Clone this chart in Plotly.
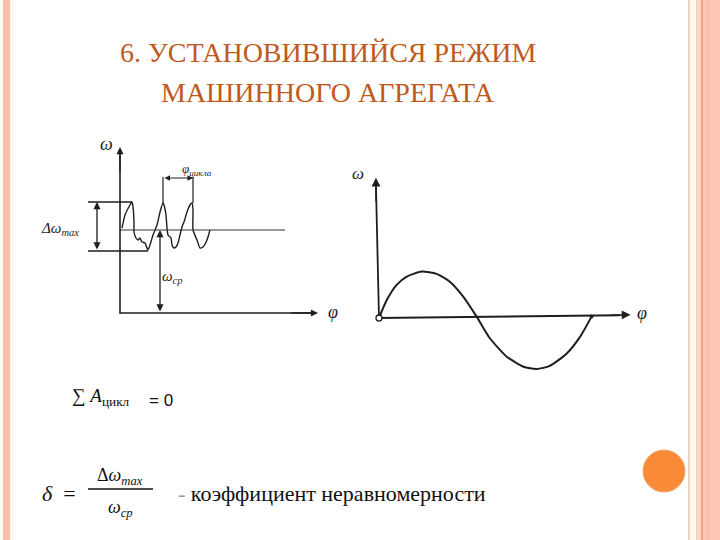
import plotly.graph_objects as go

# ---------------- data ----------------
# Left diagram: angular velocity omega vs angle phi (steady-state fluctuation)
wave_phi = [0.2, 0.5, 1.0, 1.2, 1.3, 1.4, 1.4, 1.6, 1.8, 2.0, 2.2, 2.5, 2.7, 2.8, 3.0, 3.3, 3.7, 4.0,
            4.3, 4.4, 4.6, 4.7, 4.8, 5.1, 5.2, 5.4, 5.6, 5.8, 6.0, 6.2, 6.4, 6.7, 7.0, 7.2, 7.3, 7.3,
            7.7, 8.0, 8.3, 8.7, 9.0]
wave_omega = [8.5, 9.8, 10.8, 11.1, 10.6, 9.1, 8.1, 7.5, 7.3, 7.5, 7.1, 7.0, 6.5, 6.3, 6.8, 7.8, 8.8, 10.1,
              11.0, 10.8, 9.8, 8.5, 7.8, 7.5, 6.8, 6.5, 6.6, 7.0, 7.8, 8.6, 9.1, 10.1, 10.8, 11.0, 10.3, 8.3,
              7.3, 6.5, 6.6, 7.3, 8.3]
omega_max = 11.1
omega_min = 6.2
omega_mean = 8.3
cycle_start = 4.3
cycle_end = 7.3

# Right diagram: one cycle of omega vs phi
cyc_phi = [0.0, 0.23, 0.52, 0.82, 1.26, 1.70, 2.09, 2.49, 2.88, 3.27, 3.77, 4.26, 4.65, 5.04, 5.54, 5.93, 6.27]
cyc_omega = [0.0, 0.39, 0.72, 0.90, 1.01, 0.96, 0.79, 0.46, 0.03, -0.44, -0.84, -1.06, -1.11, -1.04, -0.77, -0.41, 0.03]

title_lines = ["6. УСТАНОВИВШИЙСЯ РЕЖИМ", "МАШИННОГО АГРЕГАТА"]

# ---------------- figure ----------------
W, H = 720, 540
INK = "#1e1e1e"
SERIF = "Liberation Serif, DejaVu Serif, serif"

def px(x):
    return x / W

def py(y):
    return 1 - y / H

fig = go.Figure()

# left diagram curve and lines
fig.add_trace(go.Scatter(x=wave_phi, y=wave_omega, mode="lines", line=dict(color=INK, width=1.4, shape="spline", smoothing=0.5),
                         xaxis="x", yaxis="y", hoverinfo="skip"))
fig.add_trace(go.Scatter(x=[0, 16.5], y=[omega_mean, omega_mean], mode="lines", line=dict(color="#333", width=1.1),
                         xaxis="x", yaxis="y", hoverinfo="skip"))
fig.add_trace(go.Scatter(x=[-3.2, 1.2], y=[omega_max, omega_max], mode="lines", line=dict(color=INK, width=1.4),
                         xaxis="x", yaxis="y", hoverinfo="skip"))
fig.add_trace(go.Scatter(x=[-3.2, 2.8], y=[omega_min, omega_min], mode="lines", line=dict(color=INK, width=1.4),
                         xaxis="x", yaxis="y", hoverinfo="skip"))
fig.add_trace(go.Scatter(x=[cycle_start, cycle_start, None, cycle_end, cycle_end], y=[11.0, 13.6, None, 11.0, 13.6],
                         mode="lines", line=dict(color=INK, width=1.2), xaxis="x", yaxis="y", hoverinfo="skip"))
fig.add_trace(go.Scatter(x=[0, 0, 19.2], y=[16.0, 0, 0], mode="lines", line=dict(color=INK, width=1.6),
                         xaxis="x", yaxis="y", hoverinfo="skip"))

# right diagram
fig.add_trace(go.Scatter(x=cyc_phi, y=cyc_omega, mode="lines", line=dict(color=INK, width=2.0, shape="spline", smoothing=0.6),
                         xaxis="x2", yaxis="y2", hoverinfo="skip"))
fig.add_trace(go.Scatter(x=[-0.09, 0, 7.1], y=[2.9, 0, 0.06], mode="lines", line=dict(color=INK, width=1.8),
                         xaxis="x2", yaxis="y2", hoverinfo="skip"))
fig.add_trace(go.Scatter(x=[0], y=[0], mode="markers", marker=dict(size=6, color="white", line=dict(color=INK, width=1.3)),
                         xaxis="x2", yaxis="y2", hoverinfo="skip"))
fig.add_trace(go.Scatter(x=[cyc_phi[-1]], y=[cyc_omega[-1]], mode="markers", marker=dict(size=4, color=INK),
                         xaxis="x2", yaxis="y2", hoverinfo="skip"))

ann = []

# title
tcol = "#BF5A1C"
for txt, yy in zip(title_lines, [53, 92]):
    ann.append(dict(x=px(328), y=py(yy), xref="paper", yref="paper", xanchor="center", yanchor="middle",
                    text=txt, showarrow=False, font=dict(family=SERIF, size=28, color=tcol)))

hand = dict(family=SERIF, color=INK)
ann += [
    dict(x=-1.4, y=16.9, xref="x", yref="y", text="<i>ω</i>", showarrow=False, font=dict(size=18, **hand)),
    dict(x=21.3, y=0.1, xref="x", yref="y", text="<i>φ</i>", showarrow=False, font=dict(size=18, **hand)),
    dict(x=-6.0, y=8.4, xref="x", yref="y", text="<i>Δω<sub>max</sub></i>", showarrow=False, font=dict(size=15, **hand)),
    dict(x=5.2, y=3.6, xref="x", yref="y", text="<i>ω<sub>ср</sub></i>", showarrow=False, font=dict(size=15, **hand)),
    dict(x=7.7, y=14.4, xref="x", yref="y", text="<i>φ<sub>цикла</sub></i>", showarrow=False, font=dict(size=13, **hand)),
    dict(x=-0.62, y=3.15, xref="x2", yref="y2", text="<i>ω</i>", showarrow=False, font=dict(size=17, **hand)),
    dict(x=7.75, y=0.1, xref="x2", yref="y2", text="<i>φ</i>", showarrow=False, font=dict(size=18, **hand)),
]

# formulas
serif = dict(family=SERIF, color="#111")
pa = dict(xref="paper", yref="paper", showarrow=False, yanchor="middle")
ann += [
    dict(x=px(70), y=py(397), xanchor="left", text="∑ <i>A</i><sub>цикл</sub>", font=dict(size=19, **serif), **pa),
    dict(x=px(147), y=py(400), xanchor="left", text="= 0",
         font=dict(family="Liberation Sans, Arial, sans-serif", size=17, color="#111"), **pa),
    dict(x=px(40), y=py(493), xanchor="left", text="<i>δ</i>  =", font=dict(size=22, **serif), **pa),
    dict(x=px(120), y=py(476), xanchor="center", text="Δ<i>ω<sub>max</sub></i>", font=dict(size=18, **serif), **pa),
    dict(x=px(120), y=py(508), xanchor="center", text="<i>ω<sub>cp</sub></i>", font=dict(size=18, **serif), **pa),
    dict(x=px(176), y=py(493), xanchor="left", text="<span style='color:#999'>-</span> коэффициент неравномерности",
         font=dict(size=22, **serif), **pa),
]

def arrow(x, y, ax, ay, xr="x", yr="y", both=False, w=1.3):
    ann.append(dict(x=x, y=y, ax=ax, ay=ay, xref=xr, yref=yr, axref=xr, ayref=yr, text="", showarrow=True,
                    arrowhead=2, arrowsize=1.1, arrowwidth=w, arrowcolor=INK,
                    arrowside="end+start" if both else "end"))

# axes arrows
arrow(0, 16.6, 0, 14.0)
arrow(19.8, 0, 17.0, 0)
arrow(-0.09, 3.05, -0.08, 2.5, "x2", "y2", w=1.6)
arrow(7.42, 0.07, 6.8, 0.06, "x2", "y2", w=1.6)
# dimension arrows
arrow(-2.3, omega_max, -2.3, omega_min, both=True)
arrow(4.0, omega_mean, 4.0, 0, both=True)
arrow(cycle_end, 13.5, cycle_start, 13.5, both=True, w=1.0)

shapes = [
    # fraction bar
    dict(type="line", xref="paper", yref="paper", x0=px(88), x1=px(153), y0=py(489), y1=py(489), line=dict(color="#111", width=1.5)),
    # left decorative stripe
    dict(type="rect", xref="paper", yref="paper", x0=px(3), x1=px(10), y0=0, y1=1, fillcolor="#FBC1A8", line_width=0, layer="below"),
    dict(type="rect", xref="paper", yref="paper", x0=px(10), x1=px(14), y0=0, y1=1, fillcolor="#FFF6EC", line_width=0, layer="below"),
    # right decorative stripes
    dict(type="rect", xref="paper", yref="paper", x0=px(688), x1=px(690), y0=0, y1=1, fillcolor="#EBD3C6", line_width=0, layer="below"),
    dict(type="rect", xref="paper", yref="paper", x0=px(690), x1=px(696), y0=0, y1=1, fillcolor="#FFF7EC", line_width=0, layer="below"),
    dict(type="rect", xref="paper", yref="paper", x0=px(696), x1=px(697.5), y0=0, y1=1, fillcolor="#E8CBBB", line_width=0, layer="below"),
    dict(type="rect", xref="paper", yref="paper", x0=px(697.5), x1=px(701), y0=0, y1=1, fillcolor="#F8D6C6", line_width=0, layer="below"),
    dict(type="rect", xref="paper", yref="paper", x0=px(701), x1=px(703), y0=0, y1=1, fillcolor="#F0A383", line_width=0, layer="below"),
    dict(type="rect", xref="paper", yref="paper", x0=px(703), x1=1, y0=0, y1=1, fillcolor="#FCC7B3", line_width=0, layer="below"),
    dict(type="rect", xref="paper", yref="paper", x0=px(708), x1=px(709), y0=0, y1=1, fillcolor="#F7B9A2", line_width=0, layer="below"),
    # orange bullet circle
    dict(type="circle", xref="paper", yref="paper", x0=px(643), x1=px(685), y0=py(492), y1=py(450),
         fillcolor="#FA8A37", line=dict(color="#F4A56A", width=1)),
]

hidden = dict(visible=False, showgrid=False, zeroline=False)
fig.update_layout(
    width=W, height=H, margin=dict(l=0, r=0, t=0, b=0),
    font=dict(family=SERIF),
    paper_bgcolor="white", plot_bgcolor="rgba(0,0,0,0)", showlegend=False,
    xaxis=dict(domain=[px(20), px(340)], range=[-10, 22], **hidden),
    yaxis=dict(domain=[py(330), py(140)], range=[-1.7, 17.3], **hidden),
    xaxis2=dict(domain=[px(340), px(690)], range=[-1.150, 9.174], anchor="y2", **hidden),
    yaxis2=dict(domain=[py(390), py(150)], range=[-1.565, 3.652], anchor="x2", **hidden),
    annotations=ann, shapes=shapes,
)

js = ("document.documentElement.lang='ru';"
      "document.body.style.margin='0';document.body.style.overflow='hidden';")
fig.write_html("out.html", config={"displayModeBar": False}, post_script=js)
